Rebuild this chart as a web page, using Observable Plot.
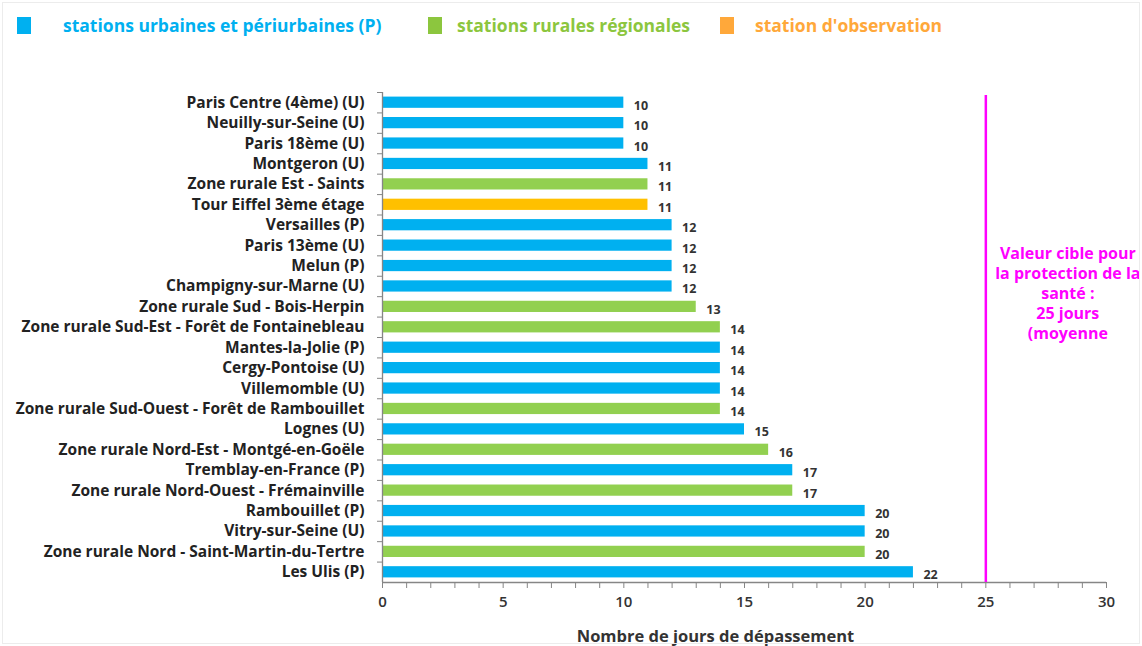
<!DOCTYPE html>
<html>
<head>
<meta charset="utf-8">
<script src="https://cdn.jsdelivr.net/npm/d3@7"></script>
<script src="https://cdn.jsdelivr.net/npm/@observablehq/plot@0.6"></script>
<style>
  body { margin: 0; background: #fff; font-family: "Open Sans", Lato, sans-serif; }
  #wrap { position: relative; width: 1142px; height: 646px; overflow: hidden; background: #fff; }
  #wrap::after { content: ""; position: absolute; inset: 2px; border: 1px solid #ececec; pointer-events: none; }
  #legend { position: relative; height: 60px; }
  .sw { position: absolute; top: 17px; width: 14px; height: 17px; }
  .lt { position: absolute; top: 13px; font-weight: 700; font-size: 17.5px; line-height: 24px; white-space: nowrap; }
  #chart svg { display: block; }
</style>
</head>
<body>
<div id="wrap">
  <div id="legend"></div>
  <div id="chart"></div>
</div>
<script>
// Station names, top to bottom
const stations = [
  "Paris Centre (4ème) (U)",
  "Neuilly-sur-Seine (U)",
  "Paris 18ème (U)",
  "Montgeron (U)",
  "Zone rurale Est - Saints",
  "Tour Eiffel 3ème étage",
  "Versailles (P)",
  "Paris 13ème (U)",
  "Melun (P)",
  "Champigny-sur-Marne (U)",
  "Zone rurale Sud - Bois-Herpin",
  "Zone rurale Sud-Est - Forêt de Fontainebleau",
  "Mantes-la-Jolie (P)",
  "Cergy-Pontoise (U)",
  "Villemomble (U)",
  "Zone rurale Sud-Ouest - Forêt de Rambouillet",
  "Lognes (U)",
  "Zone rurale Nord-Est - Montgé-en-Goële",
  "Tremblay-en-France (P)",
  "Zone rurale Nord-Ouest - Frémainville",
  "Rambouillet (P)",
  "Vitry-sur-Seine (U)",
  "Zone rurale Nord - Saint-Martin-du-Tertre",
  "Les Ulis (P)"
];

// Number of days above the threshold
const days = [10, 10, 10, 11, 11, 11, 12, 12, 12, 12, 13, 14, 14, 14, 14, 14, 15, 16, 17, 17, 20, 20, 20, 22];

// Station type index (0 = urbaine/périurbaine, 1 = rurale, 2 = observation)
const stationType = [0, 0, 0, 0, 1, 2, 0, 0, 0, 0, 1, 1, 0, 0, 0, 1, 0, 1, 0, 1, 0, 0, 1, 0];

const typeNames = ["stations urbaines et périurbaines (P)", "stations rurales régionales", "station d'observation"];

// Target value for health protection
const targetDays = 25;
const targetNote = "Valeur cible pour\nla protection de la\nsanté :\n25 jours\n(moyenne";

const xTicks = d3.range(0, 31);
const axisTitle = "Nombre de jours de dépassement";

// Colours
const barColors = ["#00b0f0", "#92d050", "#ffc000"];
const legendColors = ["#00b0f0", "#8cc63e", "#ffa83a"];
const legendSwatchX = [17, 428, 720];
const legendTextX = [63, 457, 755];

// Legend (HTML, above the plot)
const legend = document.getElementById("legend");
typeNames.forEach((name, i) => {
  const sw = document.createElement("div");
  sw.className = "sw";
  sw.style.left = legendSwatchX[i] + "px";
  sw.style.background = legendColors[i];
  legend.appendChild(sw);
  const t = document.createElement("div");
  t.className = "lt";
  t.style.left = legendTextX[i] + "px";
  t.style.color = legendColors[i];
  t.textContent = name;
  legend.appendChild(t);
});

const rows = stations.map((s, i) => ({station: s, value: days[i], type: typeNames[stationType[i]]}));

const H = 586, MT = 32, MB = 64;
const step = (H - MT - MB) / stations.length;
const font = "'Open Sans', Lato, sans-serif";
const axisGrey = "#868686";

const chart = Plot.plot({
  width: 1142,
  height: H,
  marginLeft: 382,
  marginRight: 36,
  marginTop: MT,
  marginBottom: MB,
  style: {fontFamily: font, background: "transparent", overflow: "visible"},
  x: {domain: [0, 30]},
  y: {domain: stations, paddingInner: 0.45, paddingOuter: 0.225, round: false},
  color: {domain: typeNames, range: barColors},
  marks: [
    Plot.barX(rows, {x: "value", y: "station", fill: "type"}),
    Plot.text(rows, {
      x: "value", y: "station", text: d => String(d.value),
      dx: 10, dy: 3, textAnchor: "start",
      fontSize: 12.5, fontWeight: 700, fill: "#333"
    }),
    // y axis: labels, short ticks on category boundaries, axis line
    Plot.axisY({tickSize: 0, tickPadding: 18, fontSize: 15.5, fontWeight: 700, fill: "#222", label: null}),
    Plot.ruleY(stations, {y: d => d, x1: 0, x2: 0, insetLeft: -5, dy: -step / 2, stroke: axisGrey}),
    Plot.ruleX([0], {stroke: axisGrey, strokeWidth: 1.3}),
    // x axis line along the bottom of the last category
    Plot.ruleY([stations[stations.length - 1]], {x1: 0, x2: 30, dy: step / 2, stroke: axisGrey, strokeWidth: 1.3}),
    // x axis with unit ticks, labels every 5
    Plot.axisX({
      ticks: xTicks, tickSize: 6, tickPadding: 8,
      tickFormat: d => (d % 5 === 0 ? String(d) : ""),
      stroke: axisGrey, fill: "#333",
      fontSize: 15, fontWeight: 600, label: null
    }),
    Plot.text([axisTitle], {
      frameAnchor: "bottom", text: d => d, dx: -29, dy: 54,
      lineAnchor: "middle", fontSize: 16.5, fontWeight: 700, fill: "#333"
    }),
    // target line and note
    Plot.ruleX([targetDays], {stroke: "#ff00ff", strokeWidth: 2.5, insetTop: 3}),
    Plot.text([targetNote], {
      x: () => targetDays, text: d => d, dx: 82, dy: -45,
      lineAnchor: "middle", textAnchor: "middle", lineHeight: 1.25,
      fontSize: 16, fontWeight: 700, fill: "#ff00ff"
    })
  ]
});

document.getElementById("chart").appendChild(chart);
</script>
</body>
</html>
